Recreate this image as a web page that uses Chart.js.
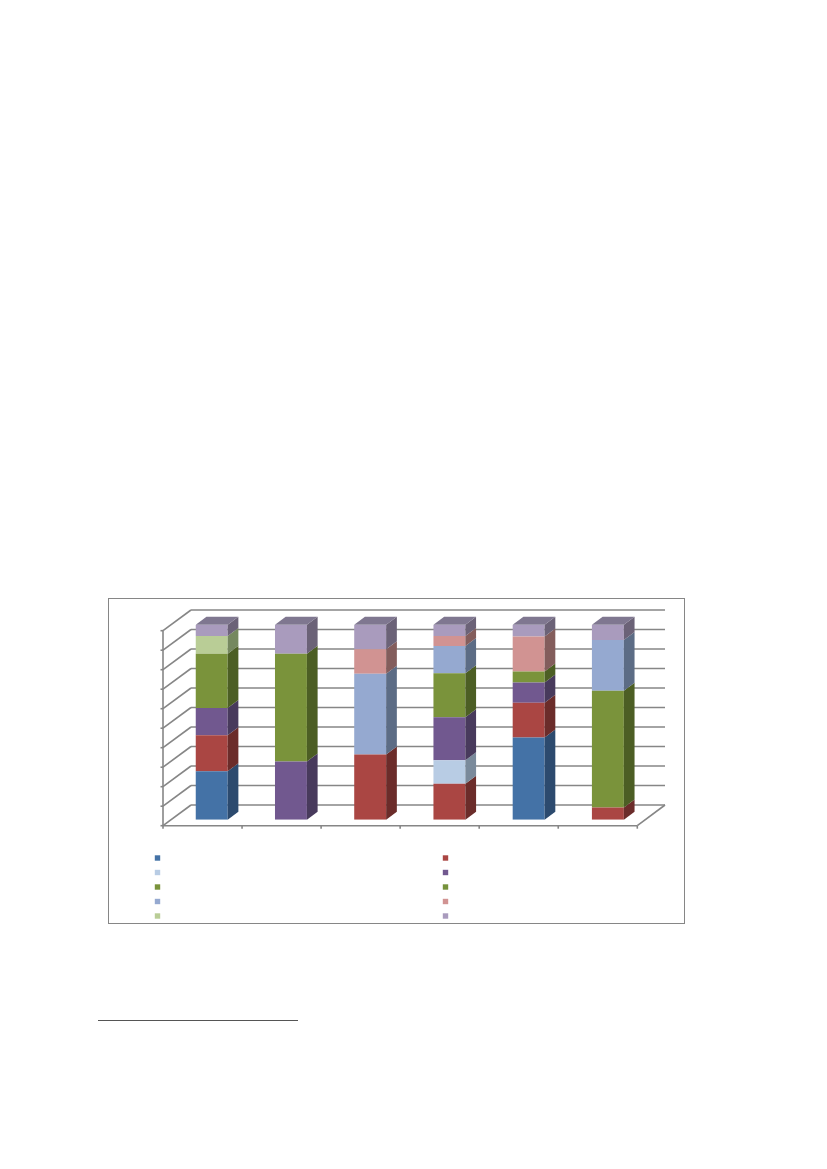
<!DOCTYPE html>
<html>
<head>
<meta charset="utf-8">
<style>
  html, body { margin: 0; padding: 0; background: #fff; }
  #wrap { position: relative; width: 827px; height: 1169px; overflow: hidden; }
  #frame { position: absolute; left: 108px; top: 598px; width: 575px; height: 324px; border: 1px solid #868686; }
  #rule { position: absolute; left: 98px; top: 1020px; width: 200px; height: 1px; background: #555; }
  canvas { position: absolute; left: 0; top: 0; }
</style>
</head>
<body>
<div id="wrap">
  <div id="frame"></div>
  <div id="rule"></div>
  <canvas id="stackChart" width="827" height="1169"></canvas>
</div>
<script src="https://cdn.jsdelivr.net/npm/chart.js@4"></script>
<script>
// the reference shows no readable text, so categories stay blank
const categories = ['', '', '', '', '', ''];
const yTicks = [0, 10, 20, 30, 40, 50, 60, 70, 80, 90, 100];

const blue     = [24.8, 0, 0, 0, 42.2, 0];
const red      = [18.5, 0, 33.4, 18.5, 17.8, 6.3];
const paleBlue = [0, 0, 0, 12.0, 0, 0];
const purple   = [14.0, 29.9, 0, 22.0, 10.4, 0];
const green    = [27.8, 55.2, 0, 22.6, 5.6, 59.8];
const green2   = [0, 0, 0, 0, 0, 0];
const steel    = [0, 0, 41.5, 14.0, 0, 26.0];
const pink     = [0, 0, 12.5, 5.1, 18.0, 0];
const lime     = [9.1, 0, 0, 0, 0, 0];
const lavender = [5.8, 14.9, 12.6, 5.8, 6.0, 7.9];

const seriesValues = [blue, red, paleBlue, purple, green, green2, steel, pink, lime, lavender];
const frontColors = ['#4472a6', '#aa4643', '#b8cce4', '#71588f', '#7a933b', '#76923c', '#95a9d0', '#d19392', '#b9cd96', '#a99bbd'];
const sideColors  = ['#2c4a6e', '#6b2c2a', '#7a8a9b', '#483a5c', '#4c5e24', '#4c5e24', '#5c6c85', '#835d5c', '#75885f', '#6b6277'];
const topColor = '#7f7790';
const gridColor = '#868686';

// 3d offsets, relative to the plane the bars stand on
const front = { left: -9.1, right: -10.2, y: 6 };
const back = { left: 18.9, right: 17.5, y: -14.7 };
const barDepth = { x: 10.7, y: -8 };

function poly(ctx, pts, fill) {
  ctx.beginPath();
  pts.forEach((p, i) => i ? ctx.lineTo(p[0], p[1]) : ctx.moveTo(p[0], p[1]));
  ctx.closePath();
  ctx.fillStyle = fill;
  ctx.fill();
}

function line(ctx, x1, y1, x2, y2) {
  ctx.beginPath();
  ctx.moveTo(x1, y1);
  ctx.lineTo(x2, y2);
  ctx.stroke();
}

const wallsPlugin = {
  id: 'walls',
  beforeDatasetsDraw(chart) {
    const { ctx, chartArea: a, scales: { y } } = chart;
    const fl = a.left + front.left, fr = a.right + front.right;
    ctx.save();
    ctx.strokeStyle = gridColor;
    ctx.lineWidth = 1.6;
    yTicks.forEach(t => {
      const py = y.getPixelForValue(t);
      // side wall diagonal, tick, then back wall line
      line(ctx, fl, py + front.y, a.left + back.left, py + back.y);
      line(ctx, fl - 2.5, py + front.y, fl, py + front.y);
      line(ctx, a.left + back.left, py + back.y, a.right + back.right, py + back.y);
    });
    const fy = a.bottom + front.y;
    line(ctx, fl, y.top + front.y, fl, fy);
    line(ctx, fl, fy, fr, fy);
    line(ctx, fr, fy, a.right + back.right, a.bottom + back.y);
    const step = (fr - fl) / categories.length;
    categories.forEach((c, i) => {
      line(ctx, fl + step * (i + 1), fy, fl + step * (i + 1), fy + 3);
    });
    line(ctx, fl, fy, fl, fy + 3);
    ctx.restore();
  },
  afterDatasetsDraw(chart) {
    const { ctx } = chart;
    ctx.save();
    chart.data.datasets.forEach((ds, i) => {
      chart.getDatasetMeta(i).data.forEach((bar, j) => {
        if (!ds.data[j]) return;
        const r = bar.x + bar.width / 2;
        poly(ctx, [[r, bar.y], [r + barDepth.x, bar.y + barDepth.y],
          [r + barDepth.x, bar.base + barDepth.y], [r, bar.base]], sideColors[i]);
      });
    });
    // roof of every stack, the top segment is always the last series
    const last = chart.data.datasets.length - 1;
    chart.getDatasetMeta(last).data.forEach(bar => {
      const l = bar.x - bar.width / 2, r = bar.x + bar.width / 2;
      poly(ctx, [[l, bar.y], [r, bar.y], [r + barDepth.x, bar.y + barDepth.y],
        [l + barDepth.x, bar.y + barDepth.y]], topColor);
    });
    // legend swatches, text is blank in the reference
    const rows = [858, 872.5, 887, 901.5, 916];
    const cols = [157.5, 445.5];
    frontColors.forEach((c, i) => {
      ctx.fillStyle = c;
      ctx.fillRect(cols[i % 2] - 2.7, rows[Math.floor(i / 2)] - 2.7, 5.4, 5.4);
    });
    ctx.restore();
  }
};

new Chart(document.getElementById('stackChart').getContext('2d'), {
  type: 'bar',
  data: {
    labels: categories,
    datasets: seriesValues.map((values, i) => ({
      label: '',
      data: values,
      backgroundColor: frontColors[i],
      borderWidth: 0,
      categoryPercentage: 1,
      barPercentage: 0.403
    }))
  },
  options: {
    responsive: false,
    animation: false,
    devicePixelRatio: 1,
    layout: { padding: { left: 172.1, right: 179.5, top: 624.7, bottom: 349.3 } },
    plugins: { legend: { display: false }, title: { display: false }, tooltip: { enabled: false } },
    scales: {
      x: { stacked: true, display: false },
      y: { stacked: true, display: false, min: 0, max: 100, ticks: { stepSize: 10 } }
    }
  },
  plugins: [wallsPlugin]
});
</script>
</body>
</html>
